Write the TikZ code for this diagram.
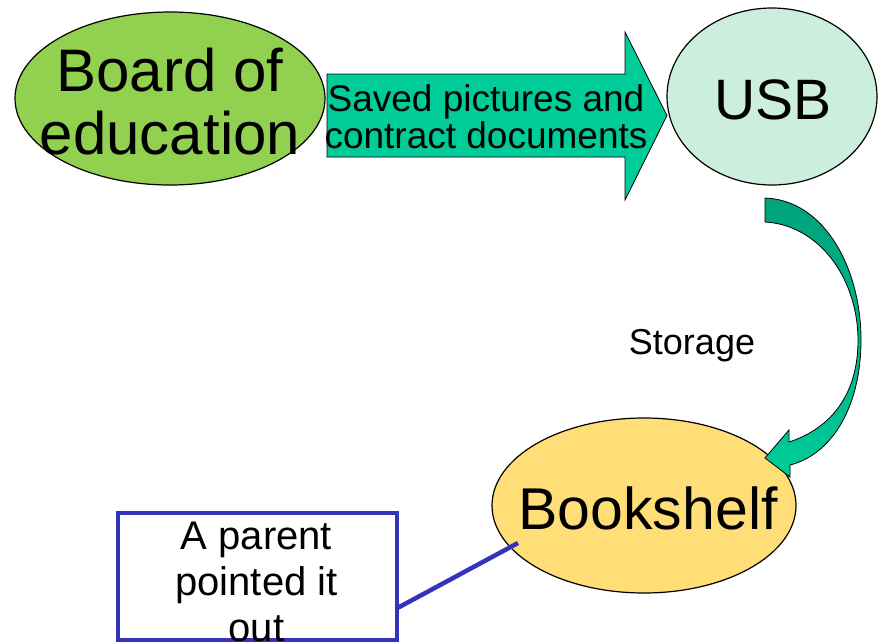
\documentclass[tikz,border=0pt]{standalone}
\usepackage{fontspec}
\setmainfont{Liberation Sans}
\usetikzlibrary{shapes.geometric,calc}

\definecolor{boardgreen}{HTML}{92D050}
\definecolor{arrowteal}{HTML}{00CC99}
\definecolor{darkteal}{HTML}{00A37A}
\definecolor{usbmint}{HTML}{CCEEDD}
\definecolor{shelfyellow}{HTML}{FFDD77}
\definecolor{parentblue}{HTML}{3333BB}

\begin{document}
\begin{tikzpicture}[
                x=1pt, y=-1pt,
                every node/.style={inner sep=0, outer sep=0},
                bubble/.style={ellipse, draw, line width=1.2pt},
                bigtext/.style={font=\fontsize{60}{63}\selectfont, align=center},
                midtext/.style={font=\fontsize{37}{37}\selectfont, align=center},
                boxtext/.style={font=\fontsize{40}{46}\selectfont, align=center}
            ]
            \useasboundingbox (0,0) rectangle (878,643);

            % 三个椭圆
            \node[bubble, fill=boardgreen, minimum width=310pt, minimum height=173pt] (board) at (170,98.5) {};
            \node[bubble, fill=usbmint, minimum width=210pt, minimum height=177pt] (usb) at (772,96.5) {};
            \node[bubble, fill=shelfyellow, minimum width=304pt, minimum height=175pt] (shelf) at (644,505.5) {};

            % 粗箭头
            \filldraw[fill=arrowteal, line width=0.8pt]
                (327,74) -- (625,74) -- (625,32) -- (667,115.5)
                -- (625,200) -- (625,157) -- (327,157) -- cycle;

            % 弯箭头
            \shadedraw[top color=darkteal, bottom color=arrowteal, middle color=darkteal!60!arrowteal, line width=0.8pt]
                (765,198) .. controls (825,200) and (862,270) .. (861,343)
                .. controls (860,410) and (830,455) .. (790,465)
                -- (790,477) -- (765,458) -- (789,430) -- (789,442)
                .. controls (826,430) and (857,400) .. (858,343)
                .. controls (859,280) and (820,225) .. (765,222) -- cycle;

            \node[bigtext] (board text) at (board.center) [yshift=-3pt] {Board of\\education};
            \node[midtext] (saved text) at (486,116.5) {Saved pictures and\\contract documents};
            \node[font=\fontsize{57}{57}\selectfont] (usb text) at (773,100) {USB};
            \node[font=\fontsize{36}{36}\selectfont] (storage) at (692,346) {Storage};
            \node[font=\fontsize{59}{59}\selectfont] (shelf text) at (648,508.5) {Bookshelf};

            % 家长
            \node[draw=parentblue, line width=4pt, minimum width=279pt, minimum height=127pt] (parent) at (257.5,576.5) {};
            \node[boxtext] (parent text) at (256.5,581.5) {A parent\\pointed it\\out};
            \coordinate (pin) at (518,543);
            \draw[parentblue, line width=4.5pt] ($(parent.north east)!0.75!(parent.south east)$) -- (pin);
            \end{tikzpicture}
\end{document}
